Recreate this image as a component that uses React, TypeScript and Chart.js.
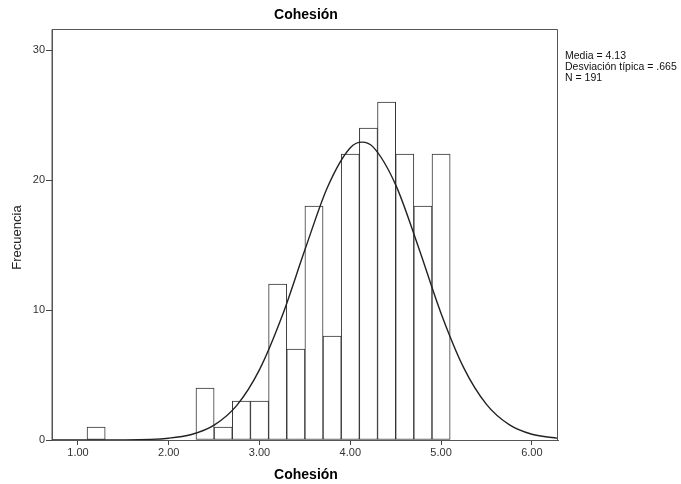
import React, { useEffect, useRef } from "react";
import { Chart, registerables } from "chart.js";

Chart.register(...registerables);

// Histogram bins (lower edge, width 0.2) and counts
const binStarts = [1.1, 2.3, 2.5, 2.7, 2.9, 3.1, 3.3, 3.5, 3.7, 3.9, 4.1, 4.3, 4.5, 4.7, 4.9];
const binWidth = 0.2;
const counts = [1, 4, 1, 3, 3, 12, 7, 18, 8, 22, 24, 26, 22, 18, 22];

// Fitted normal curve
const curveX = [0.71, 1.0, 1.5, 2.0, 2.25, 2.5, 2.75, 3.0, 3.25, 3.5, 3.75, 4.0, 4.13, 4.25, 4.5, 4.75, 5.0, 5.25, 5.5, 5.75, 6.0, 6.29];
const curveY = [0.0, 0.0, 0.01, 0.14, 0.42, 1.14, 2.66, 5.41, 9.55, 14.63, 19.47, 22.49, 22.92, 22.55, 19.63, 14.85, 9.74, 5.55, 2.74, 1.18, 0.44, 0.12];

const xTicks = [1, 2, 3, 4, 5, 6];
const yTicks = [0, 10, 20, 30];
const xMin = 0.714;
const xMax = 6.288;
const yMax = 31.62;

const titleText = "Cohesión";
const xTitle = "Cohesión";
const yTitle = "Frecuencia";
const statsLines = ["Media = 4.13", "Desviación típica = .665", "N = 191"];

const FONT = "'Liberation Sans', Arial, sans-serif";

export default function App() {
  const ref = useRef<HTMLCanvasElement | null>(null);

  useEffect(() => {
    if (!ref.current) return;
    const textPlugin = {
      id: "texts",
      afterDraw(chart: any) {
        const ctx = chart.ctx;
        const a = chart.chartArea;
        ctx.save();
        // frame
        ctx.strokeStyle = "#555";
        ctx.lineWidth = 1;
        ctx.beginPath();
        ctx.moveTo(a.left, a.bottom);
        ctx.lineTo(a.left, a.top + 0.5);
        ctx.lineTo(a.right - 0.5, a.top + 0.5);
        ctx.lineTo(a.right - 0.5, a.bottom);
        ctx.stroke();
        const cx = (a.left + a.right) / 2;
        ctx.fillStyle = "#000";
        ctx.textAlign = "center";
        ctx.textBaseline = "middle";
        ctx.font = `bold 14px ${FONT}`;
        ctx.fillText(titleText, cx + 1, 15);
        ctx.fillText(xTitle, cx + 1, 475);
        ctx.save();
        ctx.translate(17, (a.top + a.bottom) / 2 + 3);
        ctx.rotate(-Math.PI / 2);
        ctx.font = `13px ${FONT}`;
        ctx.fillStyle = "#222";
        ctx.fillText(yTitle, 0, 0);
        ctx.restore();
        ctx.textAlign = "left";
        ctx.font = `10.5px ${FONT}`;
        ctx.fillStyle = "#111";
        statsLines.forEach((s, i) => ctx.fillText(s, 565, 56 + i * 11));
        ctx.restore();
      },
    };

    const chart = new Chart(ref.current, {
      type: "bar",
      data: {
        datasets: [
          {
            type: "line",
            data: curveX.map((x, i) => ({ x, y: curveY[i] })),
            borderColor: "#222",
            borderWidth: 1.4,
            pointRadius: 0,
            cubicInterpolationMode: "monotone",
            fill: false,
            order: 0,
          } as any,
          {
            type: "bar",
            data: binStarts.map((s, i) => ({ x: s + binWidth / 2, y: counts[i] })),
            backgroundColor: "#fff",
            borderColor: "#333",
            borderWidth: 1,
            borderSkipped: false,
            barPercentage: 1,
            categoryPercentage: 1,
            order: 1,
          } as any,
        ],
      },
      options: {
        animation: false,
        responsive: false,
        devicePixelRatio: 1,
        layout: { padding: { left: 0, right: 123, top: 29, bottom: 0 } },
        plugins: { legend: { display: false }, tooltip: { enabled: false }, title: { display: false } },
        scales: {
          x: {
            type: "linear",
            min: xMin,
            max: xMax,
            offset: false,
            afterBuildTicks: (s: any) => {
              s.ticks = xTicks.map((v) => ({ value: v }));
            },
            afterFit: (s: any) => {
              s.height = 44;
            },
            ticks: {
              callback: (v: any) => Number(v).toFixed(2),
              font: { family: FONT, size: 11 },
              color: "#333",
              padding: 1,
              maxRotation: 0,
              autoSkip: false,
            },
            grid: { offset: false, drawOnChartArea: false, drawTicks: true, tickLength: 5, color: "#444" },
            border: { display: true, color: "#555" },
          },
          y: {
            type: "linear",
            min: 0,
            max: yMax,
            afterBuildTicks: (s: any) => {
              s.ticks = yTicks.map((v) => ({ value: v }));
            },
            afterFit: (s: any) => {
              s.width = 52;
            },
            ticks: {
              font: { family: FONT, size: 11 },
              color: "#333",
              padding: 1,
              autoSkip: false,
            },
            grid: { drawOnChartArea: false, drawTicks: true, tickLength: 6, color: "#444" },
            border: { display: true, color: "#555" },
          },
        },
      },
      plugins: [textPlugin],
    });
    return () => chart.destroy();
  }, []);

  return (
    <div style={{ position: "absolute", left: 0, top: 0, width: 681, height: 484, background: "#fff" }}>
      <canvas ref={ref} width={681} height={484} style={{ width: 681, height: 484 }} />
    </div>
  );
}
